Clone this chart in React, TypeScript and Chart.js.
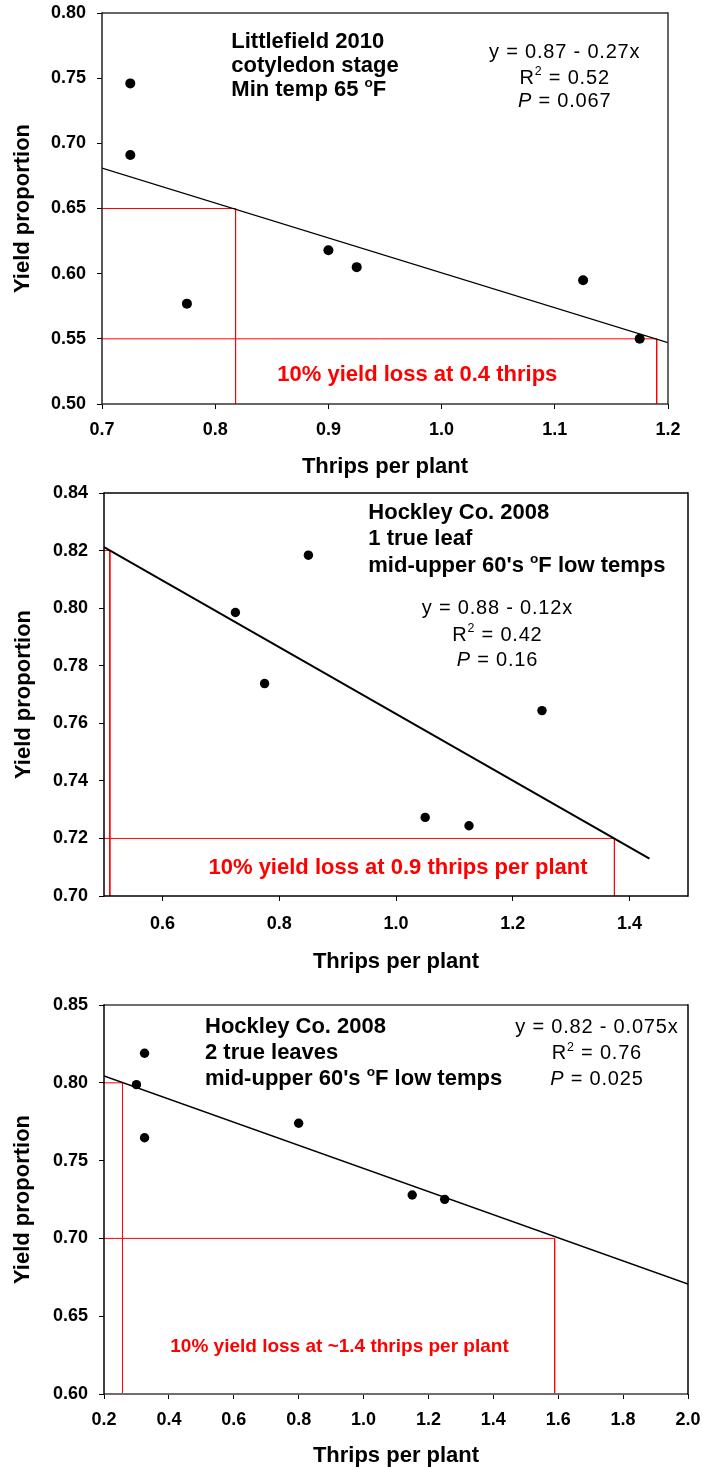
import React, { useEffect, useRef } from "react";
import { Chart, registerables } from "chart.js";

Chart.register(...registerables);

const FONT_FAMILY = "'Liberation Sans', Arial, Helvetica, sans-serif";

// ---------- Panel 1: Littlefield 2010, cotyledon stage ----------
const p1Thrips = [0.725, 0.725, 0.775, 0.9, 0.925, 1.125, 1.175];
const p1Yield = [0.746, 0.691, 0.577, 0.618, 0.605, 0.595, 0.55];
const p1FitThrips = [0.7, 1.2];
const p1FitYield = [0.681, 0.547];
const p1GuideAThrips = [0.7, 0.818, 0.818];
const p1GuideAYield = [0.65, 0.65, 0.5];
const p1GuideBThrips = [0.7, 1.19, 1.19];
const p1GuideBYield = [0.55, 0.55, 0.5];
const p1XTicks = [0.7, 0.8, 0.9, 1.0, 1.1, 1.2];
const p1YTicks = [0.5, 0.55, 0.6, 0.65, 0.7, 0.75, 0.8];
const p1Site = ["Littlefield 2010", "cotyledon stage", "Min temp 65 ^oF"];
const p1Stats = ["y = 0.87 - 0.27x", "R^2 = 0.52", "*P* = 0.067"];
const p1Note = ["10% yield loss at 0.4 thrips"];

// ---------- Panel 2: Hockley Co. 2008, 1 true leaf ----------
const p2Thrips = [0.725, 0.775, 0.85, 1.05, 1.125, 1.25];
const p2Yield = [0.7985, 0.7738, 0.8184, 0.7273, 0.7244, 0.7644];
const p2FitThrips = [0.5, 1.434];
const p2FitYield = [0.8212, 0.713];
const p2GuideAThrips = [0.5, 0.51, 0.51];
const p2GuideAYield = [0.82, 0.82, 0.7];
const p2GuideBThrips = [0.5, 1.374, 1.374];
const p2GuideBYield = [0.72, 0.72, 0.7];
const p2XTicks = [0.6, 0.8, 1.0, 1.2, 1.4];
const p2YTicks = [0.7, 0.72, 0.74, 0.76, 0.78, 0.8, 0.82, 0.84];
const p2Site = ["Hockley Co. 2008", "1 true leaf", "mid-upper 60's ^oF low temps"];
const p2Stats = ["y = 0.88 - 0.12x", "R^2 = 0.42", "*P* = 0.16"];
const p2Note = ["10% yield loss at 0.9 thrips per plant"];

// ---------- Panel 3: Hockley Co. 2008, 2 true leaves ----------
const p3Thrips = [0.3, 0.325, 0.325, 0.8, 1.15, 1.25];
const p3Yield = [0.7988, 0.819, 0.7647, 0.774, 0.7279, 0.7251];
const p3FitThrips = [0.2, 2.0];
const p3FitYield = [0.8044, 0.6707];
const p3GuideAThrips = [0.2, 0.257, 0.257];
const p3GuideAYield = [0.8, 0.8, 0.6];
const p3GuideBThrips = [0.2, 1.589, 1.589];
const p3GuideBYield = [0.7, 0.7, 0.6];
const p3XTicks = [0.2, 0.4, 0.6, 0.8, 1.0, 1.2, 1.4, 1.6, 1.8, 2.0];
const p3YTicks = [0.6, 0.65, 0.7, 0.75, 0.8, 0.85];
const p3Site = ["Hockley Co. 2008", "2 true leaves", "mid-upper 60's ^oF low temps"];
const p3Stats = ["y = 0.82 - 0.075x", "R^2 = 0.76", "*P* = 0.025"];
const p3Note = ["10% yield loss at ~1.4 thrips per plant"];

const xTitle = "Thrips per plant";
const yTitle = "Yield proportion";

type Seg = { t: string; sup?: boolean; it?: boolean };
function parseRich(s: string): Seg[] {
  const segs: Seg[] = [];
  let buf = "";
  let italic = false;
  let i = 0;
  while (i < s.length) {
    const c = s[i];
    if (c === "^") {
      if (buf) segs.push({ t: buf, it: italic });
      buf = "";
      segs.push({ t: s[i + 1], sup: true, it: italic });
      i += 2;
      continue;
    }
    if (c === "*") {
      if (buf) segs.push({ t: buf, it: italic });
      buf = "";
      italic = !italic;
      i++;
      continue;
    }
    buf += c;
    i++;
  }
  if (buf) segs.push({ t: buf, it: italic });
  return segs;
}

function drawRich(
  ctx: CanvasRenderingContext2D,
  text: string,
  x: number,
  y: number,
  align: string,
  size: number,
  weight: string,
  color: string,
  ls: number
) {
  const segs = parseRich(text);
  const fontFor = (s: Seg) =>
    `${s.it ? "italic " : ""}${weight} ${s.sup ? size * 0.62 : size}px ${FONT_FAMILY}`;
  const pieces: { t: string; font: string; w: number; dy: number }[] = [];
  for (const s of segs) {
    ctx.font = fontFor(s);
    const dy = s.sup ? -size * 0.42 : 0;
    if (ls === 0) {
      pieces.push({ t: s.t, font: ctx.font, w: ctx.measureText(s.t).width, dy });
    } else {
      for (const ch of s.t) {
        pieces.push({ t: ch, font: ctx.font, w: ctx.measureText(ch).width + ls, dy });
      }
    }
  }
  let total = pieces.reduce((a, p) => a + p.w, 0);
  if (ls) total -= ls;
  let cx = align === "center" ? x - total / 2 : align === "right" ? x - total : x;
  ctx.fillStyle = color;
  ctx.textBaseline = "alphabetic";
  ctx.textAlign = "left";
  for (const p of pieces) {
    ctx.font = p.font;
    ctx.fillText(p.t, cx, y + p.dy);
    cx += p.w;
  }
}

type Side = { color: string; width: number };
type TextBlock = {
  lines: string[];
  dx: number;
  dys?: number[];
  fromBottom?: number;
  align: string;
  size: number;
  weight: string;
  color: string;
  ls?: number;
};
type Panel = {
  top: number;
  height: number;
  area: { left: number; right: number; top: number; bottom: number };
  xMin: number;
  xMax: number;
  yMin: number;
  yMax: number;
  xTicks: number[];
  yTicks: number[];
  px: number[];
  py: number[];
  pointRadius: number;
  fx: number[];
  fy: number[];
  fitWidth: number;
  guides: { x: number[]; y: number[] }[];
  xTickPad: number;
  yTickPad: number;
  xTitlePad: number;
  yTitlePad: number;
  yTitleSize: number;
  frame: { top: Side; right: Side; bottom: Side; left: Side };
  texts: TextBlock[];
};

const WIDTH = 703;

const panels: Panel[] = [
  {
    top: 0,
    height: 482,
    area: { left: 102, right: 668, top: 13, bottom: 404 },
    xMin: 0.7, xMax: 1.2, yMin: 0.5, yMax: 0.8,
    xTicks: p1XTicks, yTicks: p1YTicks,
    px: p1Thrips, py: p1Yield, pointRadius: 5,
    fx: p1FitThrips, fy: p1FitYield, fitWidth: 1.2,
    guides: [
      { x: p1GuideAThrips, y: p1GuideAYield },
      { x: p1GuideBThrips, y: p1GuideBYield },
    ],
    xTickPad: 10, yTickPad: 11, xTitlePad: 2.3, yTitlePad: 10, yTitleSize: 22,
    frame: {
      top: { color: "#333", width: 1.5 },
      right: { color: "#333", width: 1.5 },
      bottom: { color: "#333", width: 1.5 },
      left: { color: "#222", width: 1.5 },
    },
    texts: [
      { lines: p1Site, dx: 129.3, dys: [34.6, 59, 83.3], align: "left", size: 22, weight: "bold", color: "#000" },
      { lines: p1Stats, dx: 462.3, dys: [44.6, 70.6, 94], align: "center", size: 20, weight: "normal", color: "#000", ls: 0.8 },
      { lines: p1Note, dx: 315.3, fromBottom: 23, align: "center", size: 22, weight: "bold", color: "#ff0000" },
    ],
  },
  {
    top: 482,
    height: 503,
    area: { left: 104, right: 688, top: 11, bottom: 414 },
    xMin: 0.5, xMax: 1.5, yMin: 0.7, yMax: 0.84,
    xTicks: p2XTicks, yTicks: p2YTicks,
    px: p2Thrips, py: p2Yield, pointRadius: 4.7,
    fx: p2FitThrips, fy: p2FitYield, fitWidth: 2,
    guides: [
      { x: p2GuideAThrips, y: p2GuideAYield },
      { x: p2GuideBThrips, y: p2GuideBYield },
    ],
    xTickPad: 12, yTickPad: 11, xTitlePad: 9.6, yTitlePad: 11, yTitleSize: 22,
    frame: {
      top: { color: "#000", width: 1.5 },
      right: { color: "#000", width: 1.5 },
      bottom: { color: "#000", width: 1.5 },
      left: { color: "#000", width: 1.5 },
    },
    texts: [
      { lines: p2Site, dx: 264.3, dys: [26, 52, 79.3], align: "left", size: 22, weight: "bold", color: "#000" },
      { lines: p2Stats, dx: 393, dys: [120.5, 147.5, 172.5], align: "center", size: 20, weight: "normal", color: "#000", ls: 0.8 },
      { lines: p2Note, dx: 294, fromBottom: 22.5, align: "center", size: 22, weight: "bold", color: "#ff0000" },
    ],
  },
  {
    top: 985,
    height: 485,
    area: { left: 104, right: 688, top: 20, bottom: 409 },
    xMin: 0.2, xMax: 2.0, yMin: 0.6, yMax: 0.85,
    xTicks: p3XTicks, yTicks: p3YTicks,
    px: p3Thrips, py: p3Yield, pointRadius: 4.7,
    fx: p3FitThrips, fy: p3FitYield, fitWidth: 1.5,
    guides: [
      { x: p3GuideAThrips, y: p3GuideAYield },
      { x: p3GuideBThrips, y: p3GuideBYield },
    ],
    xTickPad: 10, yTickPad: 11, xTitlePad: 0.4, yTitlePad: 10, yTitleSize: 22,
    frame: {
      top: { color: "#6e6e6e", width: 2 },
      right: { color: "#000", width: 1.5 },
      bottom: { color: "#6e6e6e", width: 2 },
      left: { color: "#000", width: 1.5 },
    },
    texts: [
      { lines: p3Site, dx: 101, dys: [28.3, 54, 80], align: "left", size: 22, weight: "bold", color: "#000" },
      { lines: p3Stats, dx: 492.5, dys: [28.3, 54, 80], align: "center", size: 20, weight: "normal", color: "#000", ls: 0.8 },
      { lines: p3Note, dx: 235.5, fromBottom: 42.5, align: "center", size: 19, weight: "bold", color: "#ff0000" },
    ],
  },
];

function drawOverlay(chart: any, panel: Panel) {
  const { ctx, chartArea: a } = chart;
  ctx.save();
  const f = panel.frame;
  const seg = (x1: number, y1: number, x2: number, y2: number, s: Side) => {
    ctx.beginPath();
    ctx.strokeStyle = s.color;
    ctx.lineWidth = s.width;
    ctx.moveTo(x1, y1);
    ctx.lineTo(x2, y2);
    ctx.stroke();
  };
  seg(a.left, a.top, a.right, a.top, f.top);
  seg(a.left, a.bottom, a.right, a.bottom, f.bottom);
  seg(a.left, a.top - 0.75, a.left, a.bottom + 0.75, f.left);
  seg(a.right, a.top - 0.75, a.right, a.bottom + 0.75, f.right);
  for (const b of panel.texts) {
    b.lines.forEach((line, i) => {
      const x = a.left + b.dx;
      const y = b.fromBottom != null ? a.bottom - b.fromBottom : a.top + (b.dys ? b.dys[i] : 0);
      drawRich(ctx, line, x, y, b.align, b.size, b.weight, b.color, b.ls ?? 0);
    });
  }
  ctx.restore();
}

function zeroPadding(axis: any) {
  axis.paddingLeft = 0;
  axis.paddingRight = 0;
  axis.paddingTop = 0;
  axis.paddingBottom = 0;
}

function PanelChart({ panel }: { panel: Panel }) {
  const ref = useRef<HTMLCanvasElement | null>(null);
  useEffect(() => {
    if (!ref.current) return;
    const p = panel;
    const tickFont = { family: FONT_FAMILY, size: 18, weight: "bold" as const };
    const titleFont = { family: FONT_FAMILY, size: 22, weight: "bold" as const };
    const grid = {
      display: true,
      drawOnChartArea: false,
      drawTicks: true,
      tickLength: 5,
      color: "#000",
      lineWidth: 1,
    };
    const overlay = {
      id: "overlay",
      afterDraw(chart: any) {
        drawOverlay(chart, p);
      },
    };
    const datasets: any[] = [
      {
        data: p.px.map((x, i) => ({ x, y: p.py[i] })),
        showLine: false,
        pointRadius: p.pointRadius,
        pointHoverRadius: p.pointRadius,
        pointBackgroundColor: "#000",
        backgroundColor: "#000",
        pointBorderWidth: 0,
        borderWidth: 0,
      },
      {
        data: p.fx.map((x, i) => ({ x, y: p.fy[i] })),
        showLine: true,
        borderColor: "#000",
        borderWidth: p.fitWidth,
        pointRadius: 0,
        fill: false,
      },
      ...p.guides.map((g) => ({
        data: g.x.map((x, i) => ({ x, y: g.y[i] })),
        showLine: true,
        borderColor: "#ff0000",
        borderWidth: 1,
        pointRadius: 0,
        fill: false,
      })),
    ];
    const chart = new Chart(ref.current, {
      type: "scatter",
      data: { datasets },
      options: {
        animation: false,
        responsive: false,
        events: [],
        layout: {
          padding: { left: 0, right: WIDTH - p.area.right, top: p.area.top, bottom: 0 },
        },
        plugins: {
          legend: { display: false },
          tooltip: { enabled: false },
        },
        scales: {
          x: {
            type: "linear",
            position: "bottom",
            min: p.xMin,
            max: p.xMax,
            afterBuildTicks: (axis: any) => {
              axis.ticks = p.xTicks.map((v) => ({ value: v }));
            },
            afterFit: (axis: any) => {
              axis.height = p.height - p.area.bottom;
              zeroPadding(axis);
            },
            ticks: {
              autoSkip: false,
              maxRotation: 0,
              padding: p.xTickPad,
              color: "#000",
              font: tickFont,
              callback: (v: any) => Number(v).toFixed(1),
            },
            grid,
            border: { display: false },
            title: {
              display: true,
              text: xTitle,
              color: "#000",
              font: titleFont,
              padding: { top: 0, bottom: p.xTitlePad },
            },
          },
          y: {
            type: "linear",
            position: "left",
            min: p.yMin,
            max: p.yMax,
            afterBuildTicks: (axis: any) => {
              axis.ticks = p.yTicks.map((v) => ({ value: v }));
            },
            afterFit: (axis: any) => {
              axis.width = p.area.left;
              zeroPadding(axis);
            },
            ticks: {
              autoSkip: false,
              padding: p.yTickPad,
              color: "#000",
              font: tickFont,
              callback: (v: any) => Number(v).toFixed(2),
            },
            grid,
            border: { display: false },
            title: {
              display: true,
              text: yTitle,
              color: "#000",
              font: { family: FONT_FAMILY, size: p.yTitleSize, weight: "bold" as const },
              padding: { top: p.yTitlePad, bottom: 0 },
            },
          },
        },
      } as any,
      plugins: [overlay],
    });
    return () => chart.destroy();
  }, [panel]);
  return (
    <canvas
      ref={ref}
      width={WIDTH}
      height={panel.height}
      style={{ position: "absolute", left: 0, top: panel.top, width: WIDTH, height: panel.height, display: "block" }}
    />
  );
}

export default function App() {
  return (
    <div style={{ position: "absolute", left: 0, top: 0, width: WIDTH, height: 1470, background: "#fff" }}>
      {panels.map((p, i) => (
        <PanelChart key={i} panel={p} />
      ))}
    </div>
  );
}
